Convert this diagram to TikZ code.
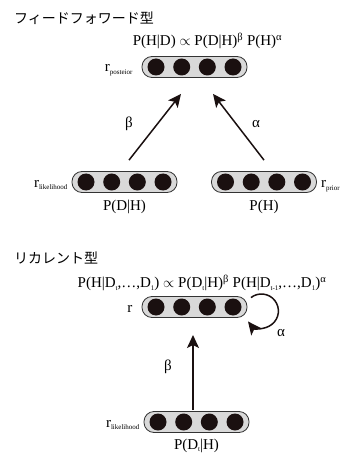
\documentclass[tikz,border=0pt]{standalone}
\usepackage{fontspec}
\setmainfont{Liberation Serif}
\newfontfamily\jpfont{Noto Sans CJK JP}
\usetikzlibrary{arrows.meta,calc}

\definecolor{unitfill}{HTML}{1A1010}
\definecolor{capfill}{HTML}{D9D9D9}

% one population of four units inside a rounded capsule
\newcommand\unitlayer[2]{%
  \node[capsule] (#1) at (#2) {};
  \foreach \dx [count=\i] in {-38.5,-12.8,12.8,38.5}
    \node[unitdot] (#1-\i) at ($(#1)+(\dx,0)$) {};
}
\newcommand\rlabel[1]{r\raisebox{-2.5pt}{\fontsize{7}{8}\selectfont #1}}
\newcommand\lowidx[1]{\raisebox{-2.5pt}{\fontsize{7}{8}\selectfont #1}}

\begin{document}
\begin{tikzpicture}[x=1pt,y=1pt,
  capsule/.style={draw=black!80, line width=0.8pt, fill=capfill,
    rounded corners=10pt, minimum width=105pt, minimum height=21pt, inner sep=0pt},
  unitdot/.style={circle, fill=unitfill, minimum size=17pt, inner sep=0pt},
  link/.style={line width=1.5pt, draw=unitfill,
    -{Stealth[length=13pt,width=12pt,inset=3pt]}},
  lbl/.style={font=\fontsize{15}{17}\selectfont, inner sep=0pt},
  title/.style={font=\jpfont\fontsize{14}{16}\selectfont, anchor=west, inner sep=0pt},
]
\useasboundingbox (0,0) rectangle (348,-454);

% ---------- feed-forward ----------
\node[title] (ti1) at (14,-18) {フィードフォワード型};
\node[lbl] (eq1) at (207.5,-41)
  {P(H|D) $\propto$ P(D|H)\textsuperscript{β} P(H)\textsuperscript{α}};

\unitlayer{post}{194.5,-67}
\unitlayer{lik}{124.5,-182}
\unitlayer{prior}{264,-182}

\node[lbl, anchor=base east] (rpost) at ($(post.west)+(-9,-5)$) {\rlabel{posteior}};
\node[lbl, anchor=base east] (rlik) at ($(lik.west)+(-4,-5)$) {\rlabel{likelihood}};
\node[lbl, anchor=base west] (rprior) at ($(prior.east)+(4,-6)$) {\rlabel{prior}};

\node[lbl] (plik) at ($(lik.south)+(0,-14)$) {P(D|H)};
\node[lbl] (pprior) at ($(prior.south)+(0,-14)$) {P(H)};

\coordinate (bt) at ($(lik.north)+(4.5,11)$);
\coordinate (bh) at ($(post.south)+(-13.5,-16)$);
\coordinate (at) at ($(prior.north)+(0,11)$);
\coordinate (ah) at ($(post.south)+(18.5,-16)$);
\draw[link] (bt) -- (bh);
\draw[link] (at) -- (ah);
\node[lbl] (beta1) at (129,-124) {β};
\node[lbl] (alpha1) at (256,-124) {α};

% ---------- recurrent ----------
\node[title] (ti2) at (14,-258) {リカレント型};
\node[lbl] (eq2) at (202,-283)
  {P(H|D\lowidx{t},…,D\lowidx{1}) $\propto$ P(D\lowidx{t}|H)\textsuperscript{β}
   P(H|D\lowidx{t-1},…,D\lowidx{1})\textsuperscript{α}};

\unitlayer{rec}{194.5,-307}
\unitlayer{inp}{196.5,-422}

\node[lbl, anchor=base east] (rrec) at ($(rec.west)+(-9,-5)$) {r};
\node[lbl, anchor=base east] (rinp) at ($(inp.west)+(-4,-5)$) {\rlabel{likelihood}};
\node[lbl] (pinp) at ($(inp.south)+(0,-13)$) {P(D\lowidx{t}|H)};

\coordinate (vt) at (193,-410);
\coordinate (vh) at (193,-335);
\draw[link] (vt) -- (vh);
\node[lbl] (beta2) at (168,-367) {β};

% self-connection of the recurrent layer: a near-circular loop on its right end
\coordinate (lc) at ($(rec.east)+(14,-4)$);
\coordinate (ls) at ($(lc)+(128:17)$);
\draw[link] (ls) arc[start angle=128, end angle=-142, radius=17];
\node[lbl] (alpha2) at (281,-333) {α};
\end{tikzpicture}
\end{document}
